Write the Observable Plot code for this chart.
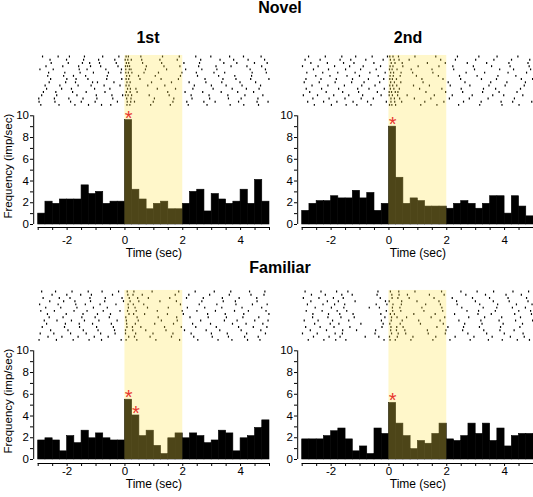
<!DOCTYPE html>
<html><head><meta charset="utf-8">
<script src="https://cdn.jsdelivr.net/npm/d3@7"></script>
<script src="https://cdn.jsdelivr.net/npm/@observablehq/plot@0.6"></script>
<style>
body{margin:0;background:#fff;}
#fig{position:relative;width:533px;height:497px;overflow:hidden;font-family:"Liberation Sans",Arial,sans-serif;background:#fff;}
.title{position:absolute;font-weight:bold;font-size:16px;line-height:16px;text-align:center;width:140px;margin-left:-70px;color:#000;}
.panel{position:absolute;}
</style></head><body><div id="fig"></div>
<script>
// ---- data ----
const titles = {group1: "Novel", group2: "Familiar", col1: "1st", col2: "2nd"};
const binStarts = [-3,-2.75,-2.5,-2.25,-2,-1.75,-1.5,-1.25,-1,-0.75,-0.5,-0.25,0,0.25,0.5,0.75,1,1.25,1.5,1.75,2,2.25,2.5,2.75,3,3.25,3.5,3.75,4,4.25,4.5,4.75];
const binWidth = 0.25;
const stimWindow = [{start: 0, end: 2}];
const xTicks = [-3,-2.5,-2,-1.5,-1,-0.5,0,0.5,1,1.5,2,2.5,3,3.5,4,4.5,5];
const yTicks = [0,1,2,3,4,5,6,7,8,9,10];

const novel1st = [1.0,2.1,1.9,2.3,2.3,2.3,3.6,2.8,3.0,1.9,2.1,2.1, 9.6,3.2,2.3,1.4,1.9,2.1,1.4,1.4, 1.9,3.0,3.2,1.2,2.8,2.3,1.9,2.1,3.2,1.9,4.1,2.1];
const novel2nd = [1.25,1.9,2.15,2.15,2.6,2.4,2.4,3.1,2.4,2.9,1.25,1.9, 9.0,4.3,1.9,2.4,2.15,1.65,1.65,1.65, 1.45,1.9,2.15,1.9,1.45,1.9,2.6,2.6,1.0,2.6,1.65,0.75];
const familiar1st = [1.75,1.95,1.75,0.75,2.15,1.5,2.65,1.95,2.4,1.95,1.75,1.75, 5.5,4.05,2.15,2.65,1.25,0.5,1.95,2.4, 1.95,2.4,2.15,1.5,1.75,2.65,2.4,0.75,1.95,2.15,2.9,3.6];
const familiar2nd = [1.85,1.85,1.85,2.15,2.6,2.85,1.85,0.75,1.2,0.5,2.85,2.35, 5.2,3.3,2.15,0.95,1.7,1.45,2.35,3.3, 1.85,1.7,2.15,3.3,2.35,3.3,1.7,2.85,1.2,2.15,2.35,2.35];

// significant bins (indices into binStarts)
const novel1stStars = [12];
const novel2ndStars = [12];
const familiar1stStars = [12, 13];
const familiar2ndStars = [12];

// display order of trials in the raster (top to bottom)
const rowOrder = [0, 9, 4, 13, 2, 11, 6, 15, 1, 8, 3, 12, 5, 14, 7, 10];

// raster: spike times (sec) per trial
const novel1stSpikes = [
"-2.85 -2.31 -1.92 -1.40 -0.77 -0.21 0.04 0.12 0.55 1.30 1.88 2.45 2.97 3.62 4.10 4.71",
"-2.62 -2.05 -1.71 -1.12 -0.95 -0.38 0.07 0.18 0.92 1.61 2.22 2.80 3.35 3.98 4.52",
"-2.94 -2.48 -1.58 -1.31 -0.66 -0.12 0.03 0.15 0.21 0.71 1.44 2.10 2.66 3.18 4.33 4.86",
"-2.71 -2.19 -1.85 -1.05 -0.52 0.09 0.19 0.38 1.12 1.75 2.35 3.05 3.71 4.20 4.64",
"-2.55 -1.96 -1.47 -1.22 -0.88 -0.30 0.05 0.13 0.61 1.27 2.04 2.58 3.42 3.87 4.48 4.92",
"-2.88 -2.36 -1.66 -0.99 -0.45 -0.08 0.02 0.11 0.23 0.84 1.53 2.29 2.91 3.56 4.15 4.77",
"-2.67 -2.12 -1.78 -1.36 -0.61 0.06 0.16 0.47 1.05 1.92 2.51 3.24 3.80 4.38",
"-2.97 -2.42 -1.88 -1.51 -1.03 -0.26 0.08 0.20 0.33 0.98 1.66 2.14 2.73 3.12 3.93 4.57 4.95",
"-2.76 -2.25 -1.62 -1.17 -0.72 -0.17 0.04 0.14 0.79 1.38 2.40 2.99 3.50 4.05 4.69",
"-2.59 -2.02 -1.43 -0.91 -0.35 0.01 0.10 0.22 0.58 1.21 1.81 2.62 3.29 3.76 4.26 4.83",
"-2.91 -2.28 -1.73 -1.26 -0.81 -0.49 0.07 0.17 0.89 1.57 2.19 2.84 3.64 4.11 4.62",
"-2.64 -2.08 -1.55 -1.09 -0.57 -0.14 0.03 0.12 0.24 0.66 1.16 1.97 2.47 3.08 3.45 4.40 4.89",
"-2.82 -2.39 -1.81 -1.34 -0.69 0.05 0.18 0.42 1.48 2.08 2.69 3.33 3.90 4.45",
"-2.73 -2.15 -1.60 -1.19 -0.84 -0.24 0.02 0.09 0.16 0.74 1.35 1.90 2.55 3.15 3.67 4.22 4.73",
"-2.98 -2.44 -1.94 -1.45 -0.97 -0.42 0.06 0.21 1.02 1.69 2.32 2.93 3.58 4.02 4.60",
"-2.57 -2.01 -1.69 -1.28 -0.63 -0.11 0.04 0.13 0.52 1.25 1.85 2.77 3.39 3.84 4.35 4.98"];
const novel2ndSpikes = [
"-2.78 -2.20 -1.63 -1.15 -0.58 -0.05 0.03 0.14 0.33 0.90 1.62 2.37 3.11 3.74 4.46",
"-2.93 -2.41 -1.86 -1.29 -0.86 -0.32 0.06 0.19 0.41 1.18 2.05 2.63 3.52 4.08 4.72",
"-2.61 -2.09 -1.50 -0.98 -0.44 0.02 0.11 0.28 0.77 1.49 2.24 2.96 3.83 4.31 4.90",
"-2.86 -2.33 -1.74 -1.08 -0.69 -0.16 0.05 0.17 0.36 1.06 1.83 2.50 3.27 3.69 4.55",
"-2.70 -2.13 -1.57 -1.21 -0.52 0.08 0.21 0.46 1.33 1.95 2.71 3.38 4.15 4.81",
"-2.96 -2.47 -1.91 -1.39 -0.91 -0.27 0.01 0.12 0.30 0.63 1.57 2.19 2.88 3.59 3.97 4.63",
"-2.53 -2.04 -1.45 -1.02 -0.37 0.04 0.15 0.39 0.95 1.71 2.44 3.05 3.77 4.39",
"-2.81 -2.26 -1.80 -1.24 -0.74 -0.09 0.07 0.20 0.44 1.24 1.90 2.58 3.19 3.88 4.28 4.94",
"-2.66 -2.11 -1.54 -0.94 -0.48 0.03 0.13 0.27 0.85 1.40 2.12 2.80 3.46 4.02 4.68",
"-2.90 -2.38 -1.69 -1.32 -0.80 -0.20 0.05 0.18 0.35 0.70 1.79 2.30 3.00 3.63 4.24 4.87",
"-2.58 -1.99 -1.48 -1.11 -0.62 0.02 0.10 0.23 1.10 1.66 2.41 3.14 3.91 4.50",
"-2.84 -2.29 -1.77 -1.17 -0.66 -0.13 0.06 0.16 0.42 0.82 1.52 2.67 3.31 4.12 4.76",
"-2.74 -2.17 -1.60 -1.05 -0.40 0.01 0.09 0.22 0.31 1.28 1.96 2.55 3.24 3.81 4.43",
"-2.99 -2.45 -1.88 -1.36 -0.89 -0.29 0.04 0.14 0.48 1.01 1.73 2.21 2.92 3.55 4.19 4.85",
"-2.63 -2.07 -1.52 -0.96 -0.54 0.07 0.19 0.37 0.88 1.45 2.09 2.78 3.43 4.34",
"-2.87 -2.35 -1.82 -1.26 -0.71 -0.18 0.03 0.12 0.26 1.14 1.87 2.48 3.20 3.72 4.58 4.97"];
const familiar1stSpikes = [
"-2.88 -2.40 -1.83 -1.27 -0.79 -0.22 0.08 0.31 0.94 1.86 2.43 3.09 3.66 4.31 4.84",
"-2.62 -2.14 -1.49 -1.03 -0.54 0.03 0.42 1.15 1.79 2.25 2.88 3.51 4.08 4.63",
"-2.95 -2.31 -1.70 -1.37 -0.86 -0.31 0.11 0.29 0.65 1.92 2.57 3.18 3.84 4.41 4.92",
"-2.71 -2.06 -1.58 -1.12 -0.47 0.06 0.36 1.03 1.68 2.34 2.96 3.72 4.19 4.77",
"-2.83 -2.27 -1.90 -1.21 -0.68 -0.10 0.15 0.44 0.81 1.55 2.13 2.71 3.37 3.95 4.56",
"-2.57 -1.97 -1.44 -0.93 -0.36 0.02 0.27 0.72 1.42 2.06 2.81 3.28 4.02 4.70",
"-2.91 -2.44 -1.76 -1.31 -0.75 -0.17 0.09 0.39 1.12 1.98 2.49 3.13 3.79 4.27 4.88",
"-2.66 -2.18 -1.62 -1.06 -0.58 0.13 0.33 0.87 1.61 2.38 3.02 3.58 4.14 4.61",
"-2.79 -2.35 -1.85 -1.40 -0.90 -0.27 0.05 0.46 1.26 1.81 2.62 3.44 3.88 4.49 4.95",
"-2.52 -2.01 -1.53 -1.16 -0.43 0.10 0.28 0.60 1.74 2.21 2.93 3.61 4.36 4.81",
"-2.97 -2.37 -1.79 -1.24 -0.81 -0.13 0.04 0.41 1.07 1.89 2.52 3.22 3.70 4.24 4.67",
"-2.74 -2.22 -1.66 -1.09 -0.61 0.12 0.35 0.78 1.50 2.16 2.76 3.35 4.05 4.73",
"-2.86 -2.09 -1.57 -0.98 -0.40 0.07 0.26 0.55 1.37 1.95 2.45 3.16 3.93 4.44 4.91",
"-2.60 -2.12 -1.73 -1.19 -0.70 -0.05 0.18 0.48 1.21 1.78 2.66 3.40 3.82 4.57",
"-2.93 -2.46 -1.88 -1.34 -0.84 -0.34 0.02 0.37 0.97 1.66 2.29 2.99 3.54 4.21 4.86",
"-2.68 -2.03 -1.45 -0.95 -0.50 0.14 0.30 0.68 1.47 2.02 2.86 3.47 4.11 4.98"];
const familiar2ndSpikes = [
"-2.90 -2.35 -1.81 -1.42 -0.38 0.05 0.34 0.90 1.82 2.49 3.05 3.62 4.29 4.83",
"-2.64 -2.11 -1.66 -1.20 -0.14 0.09 0.28 0.61 1.46 1.93 2.76 3.31 3.90 4.55",
"-2.82 -2.28 -1.88 -1.53 -0.44 -0.07 0.14 0.43 1.27 1.78 2.36 3.14 3.76 4.41 4.95",
"-2.57 -2.03 -1.73 -0.97 -0.20 0.03 0.39 1.09 1.88 2.62 3.22 3.95 4.62",
"-2.96 -2.42 -1.92 -1.58 -0.30 0.11 0.31 0.70 1.56 2.19 2.89 3.48 4.12 4.76",
"-2.72 -2.16 -1.60 -1.12 -0.46 0.06 0.26 0.55 1.33 1.97 2.55 3.28 3.84 4.33",
"-2.86 -2.31 -1.79 -1.46 -0.09 0.13 0.41 1.21 1.86 2.70 3.10 3.68 4.49 4.90",
"-2.61 -2.07 -1.69 -0.82 -0.35 0.02 0.29 0.83 1.62 2.29 2.94 3.57 4.20 4.68",
"-2.93 -2.45 -1.95 -1.39 -0.26 0.08 0.46 1.03 1.77 2.42 3.18 3.81 4.38 4.97",
"-2.68 -2.20 -1.63 -1.27 -0.41 0.10 0.35 0.64 1.40 1.91 2.66 3.34 4.05 4.58",
"-2.79 -2.25 -1.84 -1.49 -0.17 0.04 0.22 0.76 1.52 2.11 2.81 3.44 3.92 4.44 4.86",
"-2.55 -1.99 -1.56 -0.68 -0.33 0.12 0.38 1.14 1.83 2.52 3.26 3.73 4.27 4.72",
"-2.88 -2.38 -1.90 -1.35 -0.24 0.07 0.27 0.49 1.66 2.04 2.58 3.13 3.86 4.53",
"-2.70 -2.13 -1.75 -1.17 -0.12 0.01 0.44 0.97 1.73 2.34 2.99 3.61 4.16 4.81",
"-2.99 -2.48 -1.86 -1.61 -0.48 0.09 0.32 0.58 1.36 1.95 2.73 3.38 3.99 4.64",
"-2.63 -2.09 -1.70 -1.24 -0.28 0.05 0.19 0.86 1.60 2.27 3.08 3.54 4.35 4.93"];

// ---- drawing ----
const FONT = '"Liberation Sans", Arial, Helvetica, sans-serif';
const fig = document.getElementById("fig");

function addTitle(text, cx, top) {
  const d = document.createElement("div");
  d.className = "title"; d.textContent = text;
  d.style.left = cx + "px"; d.style.top = top + "px";
  fig.appendChild(d);
}

function panel({hist, spikes, stars, yLabel, left, top, axisGap, tickPad, timeDy}) {
  const W = 269, H = 212;
  const zeroPx = 174, tenPx = 65.3;
  const bars = binStarts.map((x, i) => ({x1: x, x2: x + binWidth, v: hist[i]}));
  const rTop = 15.5, rBottom = 10.75;
  const N = spikes.length, step = (rTop - rBottom) / N, len = step * 0.6;
  const ticks = rowOrder.flatMap((trial, row) => spikes[trial].trim().split(/\s+/).map(Number)
    .map(t => ({t, y2: rTop - row * step, y1: rTop - row * step - len})));
  const starData = stars.map(i => ({x: binStarts[i] + binWidth / 2, v: hist[i]}));
  const marks = [
    Plot.rectY(bars, {x1: "x1", x2: "x2", y: "v", fill: "black", stroke: "black", strokeWidth: 0.6}),
    Plot.ruleX(ticks, {x: "t", y1: "y1", y2: "y2", stroke: "black", strokeWidth: 1.2}),
    Plot.rect(stimWindow, {x1: "start", x2: "end", y1: () => 0, y2: () => 15.55, fill: "#FFE650", fillOpacity: 0.3}),
    Plot.ruleX([binStarts[0]], {y1: () => 0, y2: () => 10, dx: -4.5, stroke: "black", strokeWidth: 1}),
    Plot.ruleY([0], {x1: () => xTicks[0], x2: () => xTicks[xTicks.length - 1], dy: axisGap, stroke: "black", strokeWidth: 1}),
    Plot.axisY(yTicks, {anchor: "left", tickSize: 3, tickPadding: 1.5, label: null, fontSize: 11.5,
      tickFormat: d => d % 2 === 0 ? String(d) : ""}),
    Plot.axisX(xTicks, {anchor: "bottom", tickSize: 3, tickPadding: tickPad, label: null, fontSize: 11.5,
      tickFormat: d => d % 2 === 0 ? String(d) : ""}),
    Plot.text(["Time (sec)"], {x: () => 1, frameAnchor: "bottom", lineAnchor: "top", dy: timeDy, fontSize: 12, text: d => d}),
    Plot.text(starData, {x: "x", y: "v", text: () => "*", fill: "#e8352e", fontSize: 20, dy: -2, fontWeight: "normal"})
  ];
  if (yLabel) marks.push(Plot.text([yLabel], {x: () => binStarts[0], y: () => 5, text: d => d, rotate: -90, dx: -29.7, dy: -4, fontSize: 11.5}));
  const p = Plot.plot({
    width: W, height: H,
    marginLeft: 33, marginRight: 0, marginTop: tenPx, marginBottom: H - zeroPx - axisGap,
    x: {domain: [-3, 5], range: [37.7, 269]},
    y: {domain: [0, 10], range: [zeroPx, tenPx]},
    style: {background: "transparent", fontFamily: FONT, fontSize: "11.5px", overflow: "visible", color: "black"},
    marks
  });
  p.classList.add("panel");
  p.style.left = left + "px"; p.style.top = top + "px";
  fig.appendChild(p);
}

addTitle(titles.group1, 280, 0);
addTitle(titles.col1, 148, 29.5);
addTitle(titles.col2, 408, 29.5);
addTitle(titles.group2, 280, 260);

panel({hist: novel1st, spikes: novel1stSpikes, stars: novel1stStars, yLabel: "Frequency (imp/sec)", left: 0, top: 50, axisGap: 3, tickPad: 5, timeDy: 20.5});
panel({hist: novel2nd, spikes: novel2ndSpikes, stars: novel2ndStars, yLabel: null, left: 264, top: 50, axisGap: 3, tickPad: 5, timeDy: 20.5});
panel({hist: familiar1st, spikes: familiar1stSpikes, stars: familiar1stStars, yLabel: "Frequency (imp/sec)", left: 0, top: 284.7, axisGap: 4, tickPad: 0.5, timeDy: 16});
panel({hist: familiar2nd, spikes: familiar2ndSpikes, stars: familiar2ndStars, yLabel: null, left: 264, top: 284.7, axisGap: 4, tickPad: 0.5, timeDy: 16});
</script></body></html>
